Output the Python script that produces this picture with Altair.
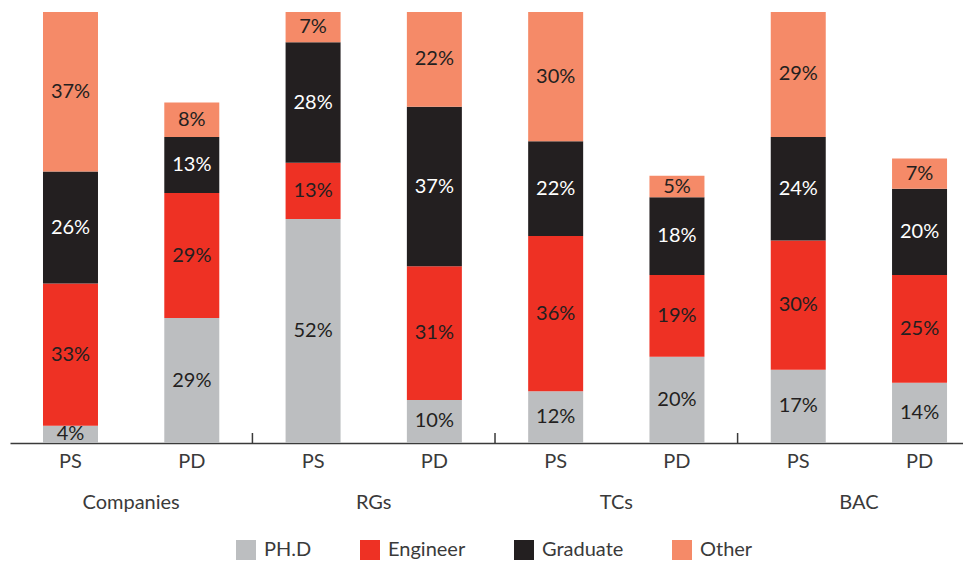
import altair as alt
import pandas as pd

groups = ["Companies", "RGs", "TCs", "BAC"]
types = ["PS", "PD"]
categories = ["PH.D", "Engineer", "Graduate", "Other"]
colors = ["#bcbec0", "#ee3124", "#231f20", "#f58a68"]

# values per bar, in category order (PH.D, Engineer, Graduate, Other)
companies_ps = [4, 33, 26, 37]
companies_pd = [29, 29, 13, 8]
rgs_ps = [52, 13, 28, 7]
rgs_pd = [10, 31, 37, 22]
tcs_ps = [12, 36, 22, 30]
tcs_pd = [20, 19, 18, 5]
bac_ps = [17, 30, 24, 29]
bac_pd = [14, 25, 20, 7]

bar_values = [
    ("Companies", "PS", companies_ps), ("Companies", "PD", companies_pd),
    ("RGs", "PS", rgs_ps), ("RGs", "PD", rgs_pd),
    ("TCs", "PS", tcs_ps), ("TCs", "PD", tcs_pd),
    ("BAC", "PS", bac_ps), ("BAC", "PD", bac_pd),
]

rows = []
bar_order = []
for g, t, vals in bar_values:
    bid = f"{g}|{t}"
    bar_order.append(bid)
    for i, (c, v) in enumerate(zip(categories, vals)):
        rows.append({"bar": bid, "group": g, "type": t, "cat": c, "ord": i, "value": v})
df = pd.DataFrame(rows)

group_df = pd.DataFrame({"group": groups, "bar": [f"{g}|PS" for g in groups]})
sep_df = pd.DataFrame({"bar": [f"{g}|PS" for g in groups[1:]]})

FONT = "Lato, Roboto, sans-serif"
STEP_HALF = 60.65

xscale = alt.Scale(domain=bar_order, paddingInner=0.5466, paddingOuter=0.2018, align=0.674)
xenc = alt.X("bar:N", sort=bar_order, scale=xscale,
             axis=alt.Axis(title=None, ticks=False, labelAngle=0,
                           labelExpr="split(datum.label, '|')[1]",
                           labelFont=FONT, labelFontSize=20, labelColor="#3a3a3a",
                           labelPadding=8, domainColor="#3a3a3a", domainWidth=1.5))

bars = alt.Chart(df).mark_bar().encode(
    x=xenc,
    y=alt.Y("value:Q", stack="zero", scale=alt.Scale(domain=[0, 100], nice=False), axis=None),
    color=alt.Color("cat:N", sort=categories,
                    scale=alt.Scale(domain=categories, range=colors),
                    legend=alt.Legend(title=None, orient="none", direction="horizontal",
                                      legendX=226, legendY=528, symbolType="square",
                                      symbolSize=400, symbolStrokeWidth=0, symbolOpacity=1,
                                      labelFont=FONT, labelFontSize=20, labelColor="#3a3a3a",
                                      labelOffset=8, columnPadding=48)),
    order=alt.Order("ord:Q", sort="ascending"),
)

labels = alt.Chart(df).transform_stack(
    stack="value", groupby=["bar"], as_=["y0", "y1"],
    sort=[alt.SortField("ord", order="ascending")]
).transform_calculate(
    mid="(datum.y0 + datum.y1) / 2",
    txt="datum.value + '%'"
).mark_text(font=FONT, fontSize=20, baseline="middle").encode(
    x=alt.X("bar:N", sort=bar_order, scale=xscale),
    y=alt.Y("mid:Q"),
    text="txt:N",
    color=alt.condition("datum.cat == 'Graduate'", alt.value("#ffffff"), alt.value("#231f20")),
)

group_labels = alt.Chart(group_df).mark_text(
    font=FONT, fontSize=20, color="#3a3a3a", baseline="middle", xOffset=STEP_HALF
).encode(
    x=alt.X("bar:N", sort=bar_order, scale=xscale),
    y=alt.value(491),
    text="group:N",
)

seps = alt.Chart(sep_df).mark_rule(color="#3a3a3a", strokeWidth=1.5, xOffset=-STEP_HALF).encode(
    x=alt.X("bar:N", sort=bar_order, scale=xscale),
    y=alt.value(421),
    y2=alt.value(431),
)

chart = alt.layer(bars, labels, group_labels, seps).properties(
    width=953, height=431,
    padding={"left": 2, "top": 4, "right": 0, "bottom": 0},
).configure_view(stroke=None)

chart.save("out.html", embed_options={"renderer": "svg", "actions": False})
